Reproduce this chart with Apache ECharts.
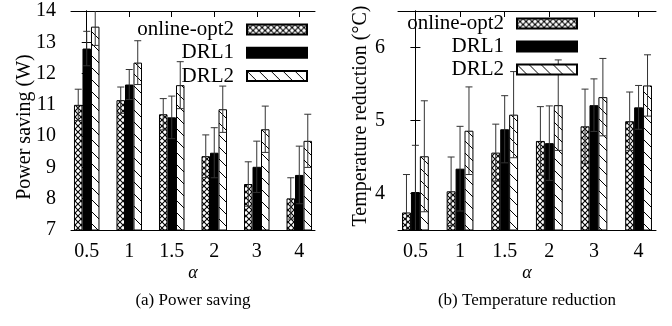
<!DOCTYPE html>
<html>
<head>
<meta charset="utf-8">
<script src="https://cdn.jsdelivr.net/npm/echarts@6/dist/echarts.min.js"></script>
<style>
  html, body { margin: 0; padding: 0; background: #fff; }
  #chart { width: 672px; height: 326px; }
</style>
</head>
<body>
<div id="chart"></div>
<script>
// alpha values on the x axis
const alphas = ['0.5', '1', '1.5', '2', '3', '4']
const seriesNames = ['online-opt2', 'DRL1', 'DRL2']

// (a) power saving (W): mean and error, one row per method
const powerMean = [
  [11.0, 11.15, 10.7, 9.36, 8.47, 8.01],
  [12.8, 11.65, 10.6, 9.47, 9.02, 8.76],
  [13.5, 12.35, 11.63, 10.86, 10.22, 9.85],
]
const powerErr = [
  [0.5, 0.42, 0.5, 0.68, 0.71, 0.66],
  [0.55, 0.48, 0.68, 0.8, 0.82, 0.92],
  [0.6, 0.7, 0.75, 0.74, 0.74, 0.85],
]

// (b) temperature reduction (°C)
const tempMean = [
  [3.74, 4.03, 4.56, 4.72, 4.92, 4.99],
  [4.02, 4.34, 4.88, 4.69, 5.21, 5.18],
  [4.51, 4.86, 5.08, 5.21, 5.32, 5.48],
]
const tempErr = [
  [0.52, 0.47, 0.39, 0.47, 0.51, 0.4],
  [0.64, 0.58, 0.46, 0.51, 0.36, 0.3],
  [0.76, 0.6, 0.59, 0.62, 0.53, 0.42],
]

const powerTicks = [7, 8, 9, 10, 11, 12, 13, 14]
const tempTicks = [4, 5, 6]
const xPos = alphas.map((a, i) => i)

const FONT = "'Liberation Serif', 'DejaVu Serif', serif"
const BAR = 0.2 // bar width in x units

// gnuplot-like fill patterns
const makePattern = (kind) => {
  const s = kind === 'cross' ? 6 : 12
  const c = document.createElement('canvas')
  c.width = s
  c.height = s
  const g = c.getContext('2d')
  g.fillStyle = '#fff'
  g.fillRect(0, 0, s, s)
  g.strokeStyle = '#000'
  g.lineWidth = kind === 'cross' ? 1.1 : 1
  g.beginPath()
  g.moveTo(-1, -1)
  g.lineTo(s + 1, s + 1)
  if (kind === 'cross') {
    g.moveTo(-1, s + 1)
    g.lineTo(s + 1, -1)
  }
  g.stroke()
  return c
}

const fills = [
  { image: makePattern('cross'), repeat: 'repeat' },
  '#000',
  { image: makePattern('diag'), repeat: 'repeat' },
]

const errRender = (k) => (params, api) => {
  const x = api.value(0)
  const v = api.value(1)
  const e = api.value(2)
  const unit = api.size([1, 0])[0]
  const dx = (k - 1) * BAR * unit
  const top = api.coord([x, v + e])
  const bot = api.coord([x, v - e])
  const cx = top[0] + dx
  const half = 3.5
  const st = { stroke: '#333', lineWidth: 1 }
  return {
    type: 'group',
    children: [
      { type: 'line', shape: { x1: cx, y1: top[1], x2: cx, y2: bot[1] }, style: st },
      { type: 'line', shape: { x1: cx - half, y1: top[1], x2: cx + half, y2: top[1] }, style: st },
      { type: 'line', shape: { x1: cx - half, y1: bot[1], x2: cx + half, y2: bot[1] }, style: st },
    ],
  }
}

const makeSeries = (means, errs, axisIdx) => {
  const out = []
  means.forEach((row, k) => {
    out.push({
      name: seriesNames[k],
      type: 'bar',
      xAxisIndex: axisIdx,
      yAxisIndex: axisIdx,
      data: row.map((v, i) => [xPos[i], v]),
      barWidth: BAR * 100 + '%',
      barGap: '0%',
      clip: true,
      itemStyle: { color: fills[k], borderColor: '#000', borderWidth: 1 },
      z: 2,
    })
  })
  means.forEach((row, k) => {
    out.push({
      name: 'err' + axisIdx + k,
      type: 'custom',
      xAxisIndex: axisIdx,
      yAxisIndex: axisIdx,
      data: row.map((v, i) => [xPos[i], v, errs[k][i]]),
      renderItem: errRender(k),
      clip: true,
      silent: true,
      z: 3,
    })
  })
  return out
}

const xAxisDef = (grid, min, max, pos) => ({
  type: 'value',
  gridIndex: grid,
  position: pos,
  min,
  max,
  axisLine: { show: true, lineStyle: { color: '#000', width: 1 } },
  axisTick: { show: true, inside: true, length: 6, customValues: xPos, lineStyle: { color: '#000' } },
  axisLabel: {
    show: pos === 'bottom',
    customValues: xPos,
    margin: 12,
    fontFamily: FONT,
    fontSize: 20,
    color: '#000',
    formatter: (v) => alphas[Math.round(v)],
  },
  splitLine: { show: false },
})

const yAxisDef = (grid, min, max, ticks, pos, margin) => ({
  type: 'value',
  gridIndex: grid,
  position: pos,
  min,
  max,
  axisLine: { show: true, lineStyle: { color: '#000', width: 1 } },
  axisTick: { show: true, inside: true, length: 5, customValues: ticks, lineStyle: { color: '#000' } },
  axisLabel: {
    show: pos === 'left',
    customValues: ticks,
    margin,
    fontFamily: FONT,
    fontSize: 20,
    color: '#000',
  },
  splitLine: { show: false },
})

const legendDef = (right, top, gap) => ({
  data: seriesNames,
  orient: 'vertical',
  right,
  top,
  padding: 0,
  align: 'right',
  icon: 'rect',
  itemWidth: 60,
  itemHeight: 10,
  itemGap: gap,
  selectedMode: false,
  textStyle: { fontFamily: FONT, fontSize: 21, lineHeight: 19, color: '#000', padding: [0, 8, 0, 0] },
})

const txt = (x, y, text, size, extra) => ({
  type: 'text',
  x,
  y,
  style: Object.assign({ text, fontFamily: FONT, fontSize: size, fill: '#000', align: 'center', verticalAlign: 'middle' }, extra || {}),
})

const chart = echarts.init(document.getElementById('chart'))
chart.setOption({
  animation: false,
  backgroundColor: '#fff',
  grid: [
    { left: 71, top: 11, width: 244, height: 219 },
    { left: 398, top: 11, width: 258, height: 219 },
  ],
  xAxis: [
    xAxisDef(0, -0.37, 5.37, 'bottom'),
    xAxisDef(1, -0.39, 5.39, 'bottom'),
    xAxisDef(0, -0.37, 5.37, 'top'),
    xAxisDef(1, -0.39, 5.39, 'top'),
  ],
  yAxis: [
    yAxisDef(0, 7, 14, powerTicks, 'left', 15),
    yAxisDef(1, 3.5, 6.5, tempTicks, 'left', 13),
    yAxisDef(0, 7, 14, powerTicks, 'right', 0),
    yAxisDef(1, 3.5, 6.5, tempTicks, 'right', 0),
  ],
  legend: [legendDef(672 - 308, 19, 2.3), legendDef(672 - 578, 13, 2)],
  series: [...makeSeries(powerMean, powerErr, 0), ...makeSeries(tempMean, tempErr, 1)],
  graphic: [
    txt(25, 127, 'Power saving (W)', 20, {}),
    txt(361, 116, 'Temperature reduction (°C)', 20, {}),
    txt(193, 273, 'α', 18, { fontStyle: 'italic' }),
    txt(527, 273, 'α', 18, { fontStyle: 'italic' }),
    txt(193, 301, '(a) Power saving', 17, {}),
    txt(527, 301, '(b) Temperature reduction', 17, {}),
  ].map((g, i) => (i < 2 ? Object.assign(g, { rotation: Math.PI / 2 }) : g)),
})
</script>
</body>
</html>
